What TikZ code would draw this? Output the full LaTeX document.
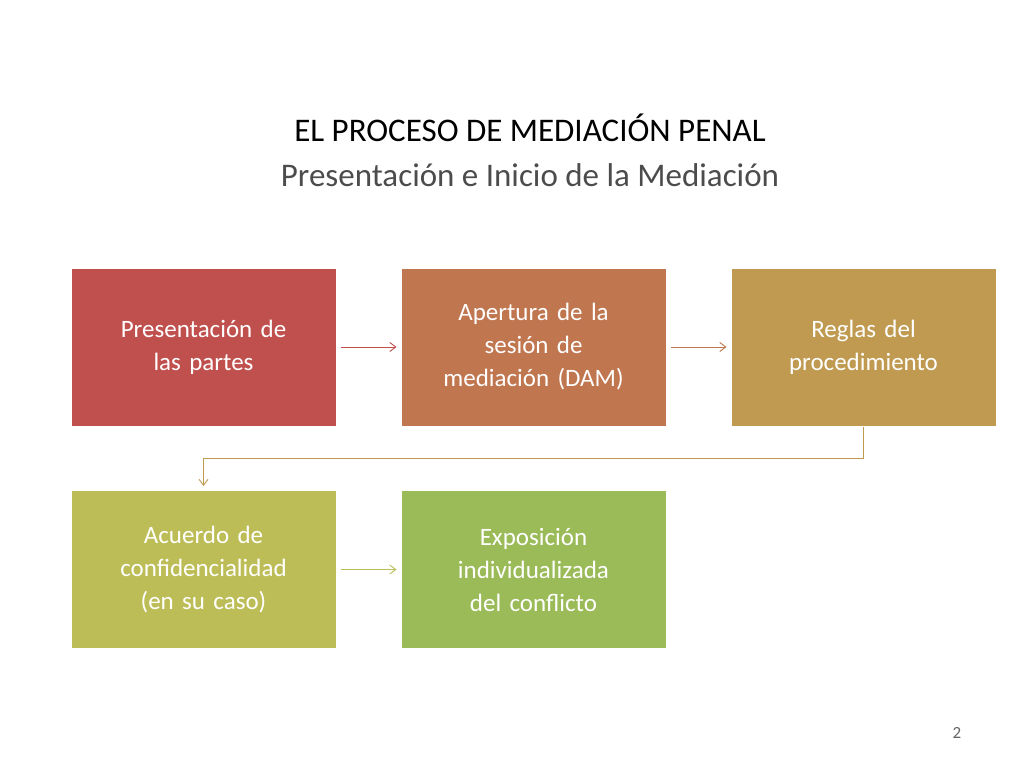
\documentclass[tikz,border=0pt]{standalone}
\usepackage{fontspec}
\setmainfont{Carlito}
\usetikzlibrary{arrows.meta}
\definecolor{c1}{HTML}{C0504D}\definecolor{c2}{HTML}{C0764F}\definecolor{c3}{HTML}{BF9A50}
\definecolor{c4}{HTML}{BDBD57}\definecolor{c5}{HTML}{9BBB59}
\tikzset{box/.style={fill=#1,draw=white,line width=1pt,minimum width=265pt,minimum height=158pt,text width=230pt,align=center,text=white,font=\fontsize{25}{33}\selectfont},
con/.style={draw=#1,line width=0.9pt,-{Straight Barb[length=6pt,width=9pt]}}}
\begin{document}
\begin{tikzpicture}[x=1pt,y=-1pt]
\useasboundingbox (0,0) rectangle (1024,768);
\node[font=\fontsize{33}{40}\selectfont,align=center] (t1) at (530,128) {EL PROCESO DE MEDIACIÓN PENAL};
\node[font=\fontsize{33}{40}\selectfont,text=black!70] (t2) at (530,175) {Presentación e Inicio de la Mediación};
\node[box=c1] (b1) at (203.5,347) {Presentación de\\las partes};
\node[box=c2] (b2) at (533.5,347) {Apertura de la\\sesión de\\mediación (DAM)};
\node[box=c3] (b3) at (863.5,347) {Reglas del\\procedimiento};
\node[box=c4] (b4) at (203.5,569.5) {Acuerdo de\\confidencialidad\\(en su caso)};
\node[box=c5] (b5) at (533.5,569.5) {Exposición\\individualizada\\del conflicto};
\draw[con=c1] ([xshift=4pt]b1.east) -- ([xshift=-4pt]b2.west);
\draw[con=c2] ([xshift=4pt]b2.east) -- ([xshift=-4pt]b3.west);
\draw[con=c4] ([xshift=4pt]b4.east) -- ([xshift=-4pt]b5.west);
\coordinate (k1) at (863.5,458); \coordinate (k2) at (203.5,458);
\draw[con=c3] (b3.south) -- (k1) -- (k2) -- ([yshift=4pt]b4.north);
\node[font=\fontsize{17}{20}\selectfont,text=black!60] (pg) at (957,733) {2};
\end{tikzpicture}
\end{document}
